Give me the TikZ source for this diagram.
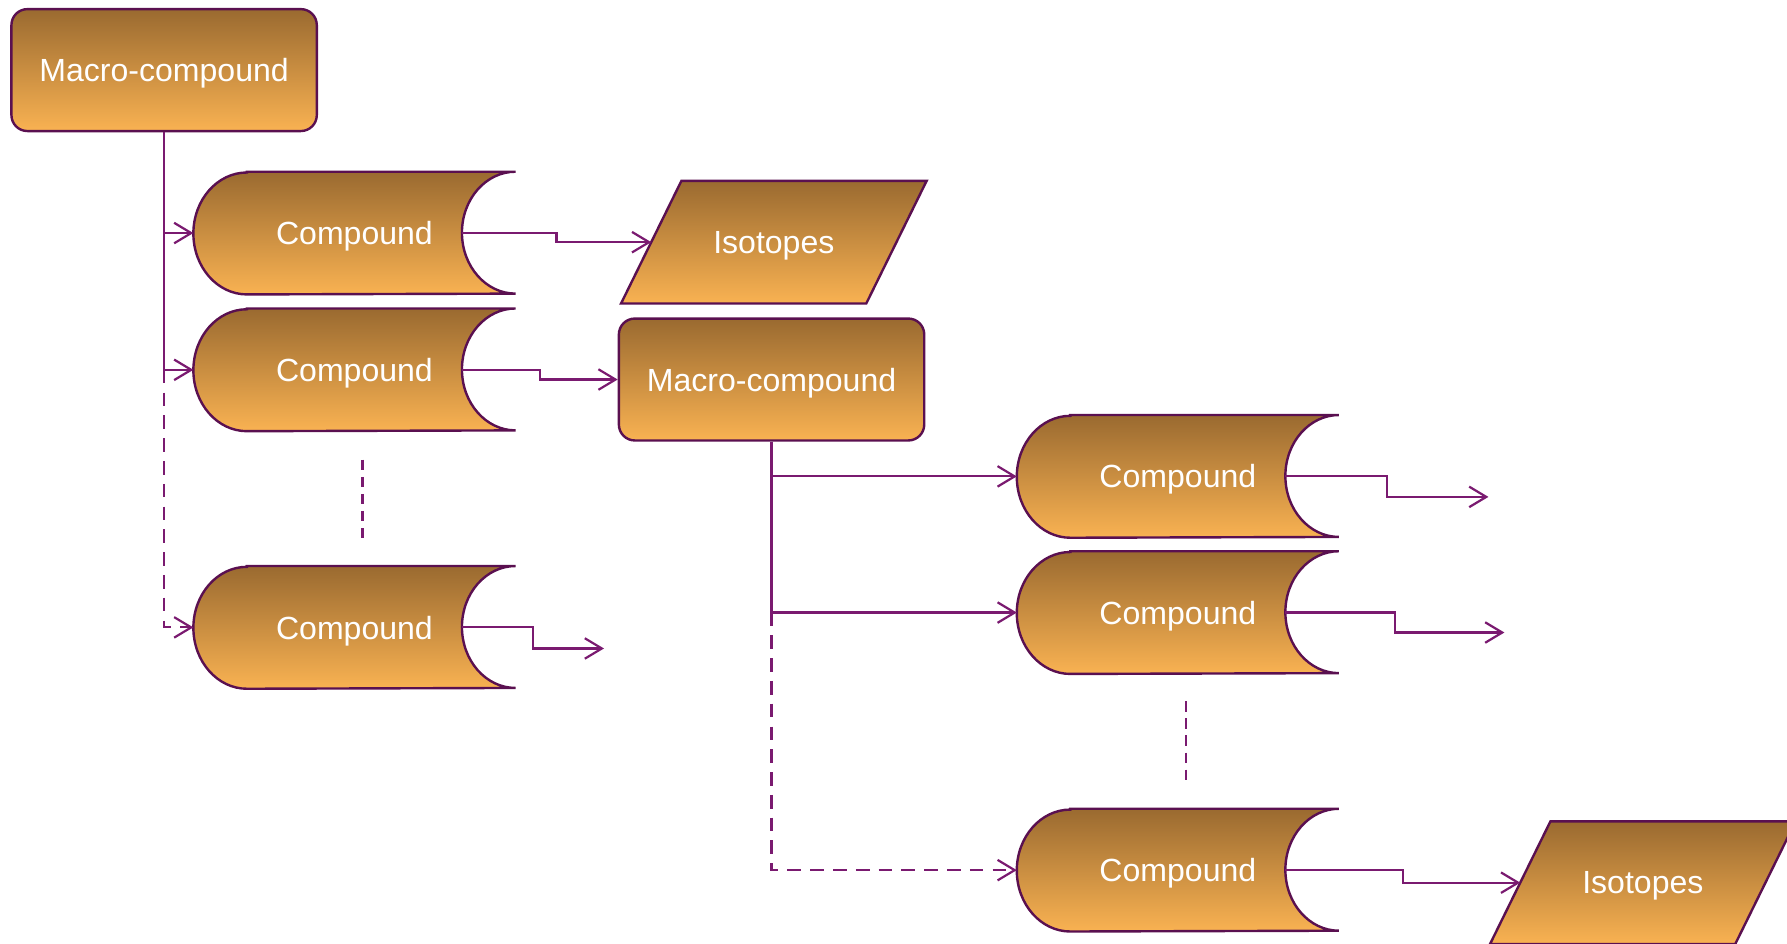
\documentclass[tikz,border=0pt]{standalone}
\usepackage{fontspec}
\usetikzlibrary{calc,arrows.meta}
\newfontfamily\labelfont{Liberation Sans}
\definecolor{boxtop}{HTML}{9A6A30}
\definecolor{boxbot}{HTML}{F9B252}
\definecolor{edgepurple}{HTML}{5A1050}
\definecolor{linepurple}{HTML}{7A1A70}
\pgfdeclarelayer{background}
\pgfsetlayers{background,main}
\tikzset{
	cpdfill/.style={draw=edgepurple, line width=1.2pt, top color=boxtop, bottom color=boxbot},
	label/.style={text=white, text depth=0pt, font=\labelfont\fontsize{16}{19}\selectfont},
	macro/.style={label, cpdfill, rectangle, rounded corners=0.28cm, minimum width=5.36cm, minimum height=2.14cm},
	cpd/.style={label, rectangle, minimum width=5.64cm, minimum height=2.14cm},
	iso/.style={label, rectangle, minimum width=4.29cm, minimum height=2.14cm},
	flow/.style={draw=linepurple, line width=1.1pt, -{Straight Barb[length=0.3cm,width=0.36cm]}},
	later/.style={dash pattern=on 0.24cm off 0.16cm},
	dots/.style={draw=linepurple, line width=1.1pt, dash pattern=on 0.18cm off 0.12cm},
	elbow/.style={to path={-| ($(\tikztostart)!.5!(\tikztotarget)$) |- (\tikztotarget)}}
}
% compound: round left end, hollow right end
\newcommand{\cpdshape}[1]{\shade[cpdfill] ([xshift=0.94cm]#1.north west) -- (#1.north east)
	arc[start angle=90, end angle=270, x radius=0.94cm, y radius=1.07cm] -- ([xshift=0.94cm]#1.south west)
	arc[start angle=270, end angle=90, x radius=0.94cm, y radius=1.07cm] -- cycle;}
% isotopes: parallelogram
\newcommand{\isoshape}[1]{\shade[cpdfill] ([xshift=-0.53cm]#1.south west) -- ([xshift=0.53cm]#1.north west)
	-- ([xshift=0.53cm]#1.north east) -- ([xshift=-0.53cm]#1.south east) -- cycle;}

\begin{document}
\begin{tikzpicture}[x=0.02cm, y=-0.02cm]
		\useasboundingbox (0,0) rectangle (1568,828);
		\clip (0,0) rectangle (1568,828);
		
		%%%%% left branch %%%%%
		\node[macro] (m1) at (144,61.5) {Macro-compound};
		\node[cpd] (c1) at (311,204.5) {Compound};
		\node[cpd] (c2) at (311,324.5) {Compound};
		\node[cpd] (c3) at (311,550.5) {Compound};
		\node[iso] (i1) at (679,212.5) {Isotopes};
		\node[macro] (m2) at (677,333) {Macro-compound};
		
		%%%%% right branch %%%%%
		\node[cpd] (c4) at (1033.5,418) {Compound};
		\node[cpd] (c5) at (1033.5,537.5) {Compound};
		\node[cpd] (c6) at (1033.5,763.5) {Compound};
		\node[iso] (i2) at (1441.5,774.5) {Isotopes};
		
		\begin{pgfonlayer}{background}
			\foreach \n in {c1,c2,c3,c4,c5,c6} {\cpdshape{\n}}
			\foreach \n in {i1,i2} {\isoshape{\n}}
		\end{pgfonlayer}
		
		\foreach \n in {c1,c2,c3,c4,c5,c6} {\coordinate (\n-out) at ([xshift=-0.94cm]\n.east);}
		\coordinate (c3-end) at (530,569);
		\coordinate (c4-end) at (1306,436);
		\coordinate (c5-end) at (1320,555);
		
		\draw[flow] (m1.south) |- (c1.west);
		\draw[flow] (m1.south) |- (c2.west);
		\draw[flow, later] (m1.south |- c2.west) |- (c3.west);
		\draw[dots] ([xshift=0.14cm,yshift=-0.5cm]c2.south) -- ([xshift=0.14cm,yshift=0.48cm]c3.north);
		
		\draw[flow] (c1-out) to[elbow] (i1.west);
		\draw[flow] (c2-out) to[elbow] (m2.west);
		\draw[flow] (c3-out) to[elbow] (c3-end);
		
		\draw[flow] (m2.south) |- (c4.west);
		\draw[flow] (m2.south) |- (c5.west);
		\draw[flow, later] (m2.south |- c5.west) |- (c6.west);
		\draw[dots] ([xshift=0.14cm,yshift=-0.48cm]c5.south) -- ([xshift=0.14cm,yshift=0.48cm]c6.north);
		
		\draw[flow] (c4-out) to[elbow] (c4-end);
		\draw[flow] (c5-out) to[elbow] (c5-end);
		\draw[flow] (c6-out) to[elbow] (i2.west);
		
	\end{tikzpicture}
\end{document}
